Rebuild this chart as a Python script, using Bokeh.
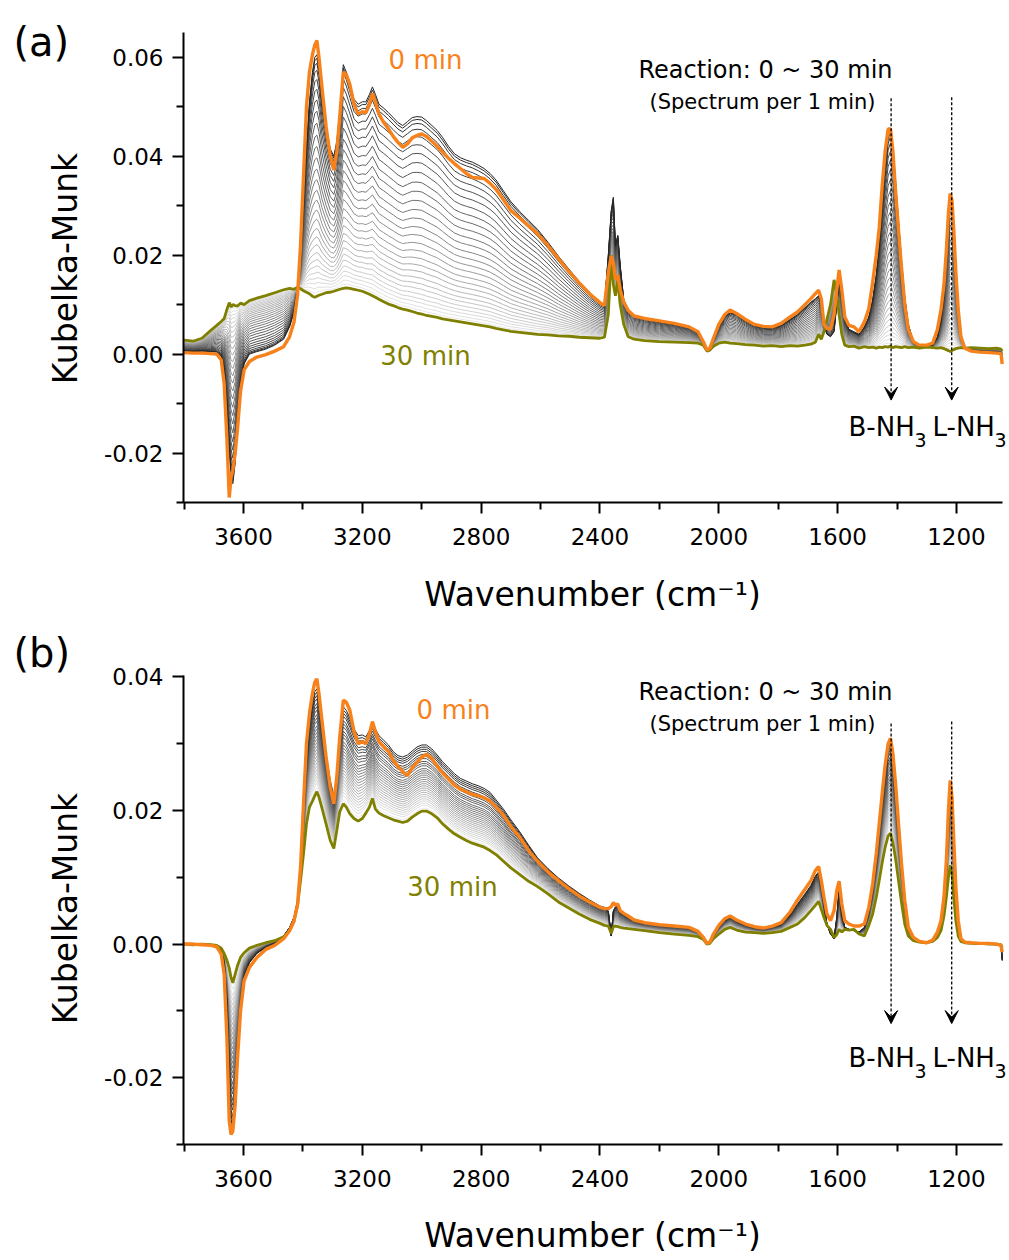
import math
import numpy as np
from bokeh.plotting import figure
from bokeh.models import (Range1d, FixedTicker, PrintfTickFormatter, Label, Arrow,
                          VeeHead, LinearAxis)
from bokeh.layouts import column
from bokeh.embed import file_html
from bokeh.resources import INLINE

# ---------------------------------------------------------------------------
# Spectra (Kubelka-Munk units) on a common wavenumber grid, cm^-1
# ---------------------------------------------------------------------------
wavenumber = [
    3800, 3770, 3740, 3710, 3690, 3675, 3665, 3656, 3648, 3642,
    3636, 3628, 3620, 3610, 3598, 3580, 3555, 3525, 3495, 3465,
    3445, 3430, 3418, 3408, 3398, 3388, 3378, 3368, 3360, 3353,
    3346, 3336, 3322, 3308, 3296, 3286, 3276, 3264, 3254, 3242,
    3228, 3214, 3200, 3188, 3176, 3166, 3156, 3144, 3128, 3112,
    3096, 3080, 3064, 3048, 3032, 3016, 3000, 2984, 2966, 2948,
    2930, 2910, 2890, 2870, 2850, 2830, 2810, 2790, 2770, 2750,
    2725, 2700, 2670, 2640, 2610, 2575, 2540, 2505, 2470, 2435,
    2400, 2385, 2372, 2362, 2355, 2348, 2340, 2332, 2320, 2305,
    2285, 2250, 2200, 2150, 2100, 2070, 2052, 2040, 2030, 2018,
    2000, 1980, 1962, 1940, 1910, 1880, 1850, 1820, 1790, 1760,
    1735, 1710, 1690, 1675, 1664, 1655, 1646, 1636, 1624, 1612,
    1603, 1595, 1586, 1576, 1562, 1545, 1528, 1510, 1495, 1482,
    1470, 1460, 1450, 1440, 1430, 1422, 1414, 1405, 1395, 1385,
    1374, 1362, 1345, 1325, 1300, 1280, 1264, 1252, 1242, 1234,
    1227, 1221, 1215, 1209, 1202, 1194, 1185, 1172, 1150, 1120,
    1090, 1065, 1050, 1046]

# (a)
km_a_0min = [
    0.0003, 0.0002, 0.0002, 0.0001, 0.0000, -0.0012, -0.0060, -0.0170, -0.0290, -0.0250,
    -0.0235, -0.0200, -0.0150, -0.0075, -0.0032, -0.0015, -0.0006, -0.0001, 0.0006, 0.0015,
    0.0035, 0.0065, 0.0120, 0.0220, 0.0360, 0.0500, 0.0570, 0.0605, 0.0625, 0.0634,
    0.0600, 0.0540, 0.0460, 0.0400, 0.0372, 0.0410, 0.0480, 0.0570, 0.0565, 0.0545,
    0.0505, 0.0485, 0.0490, 0.0488, 0.0505, 0.0527, 0.0510, 0.0485, 0.0468, 0.0455,
    0.0440, 0.0428, 0.0418, 0.0425, 0.0437, 0.0442, 0.0445, 0.0440, 0.0430, 0.0420,
    0.0408, 0.0396, 0.0385, 0.0375, 0.0365, 0.0357, 0.0356, 0.0355, 0.0345, 0.0333,
    0.0312, 0.0290, 0.0275, 0.0259, 0.0243, 0.0219, 0.0193, 0.0167, 0.0144, 0.0122,
    0.0104, 0.0098, 0.0165, 0.0198, 0.0185, 0.0150, 0.0160, 0.0130, 0.0105, 0.0088,
    0.0077, 0.0072, 0.0067, 0.0062, 0.0055, 0.0045, 0.0025, 0.0008, 0.0012, 0.0032,
    0.0060, 0.0080, 0.0089, 0.0082, 0.0070, 0.0060, 0.0056, 0.0055, 0.0062, 0.0075,
    0.0085, 0.0100, 0.0112, 0.0122, 0.0129, 0.0112, 0.0060, 0.0052, 0.0050, 0.0080,
    0.0130, 0.0170, 0.0130, 0.0075, 0.0058, 0.0055, 0.0045, 0.0065, 0.0092, 0.0145,
    0.0200, 0.0255, 0.0340, 0.0410, 0.0455, 0.0455, 0.0410, 0.0330, 0.0250, 0.0175,
    0.0100, 0.0050, 0.0025, 0.0018, 0.0018, 0.0022, 0.0050, 0.0090, 0.0140, 0.0210,
    0.0285, 0.0325, 0.0310, 0.0250, 0.0165, 0.0090, 0.0035, 0.0012, 0.0006, 0.0004,
    0.0003, 0.0002, 0.0001, -0.0020]

km_a_1min = [
    0.0006, 0.0005, 0.0006, 0.0005, 0.0004, -0.0004, -0.0030, -0.0100, -0.0200, -0.0240,
    -0.0262, -0.0220, -0.0140, -0.0060, -0.0020, 0.0000, 0.0005, 0.0010, 0.0018, 0.0030,
    0.0055, 0.0085, 0.0130, 0.0190, 0.0300, 0.0420, 0.0510, 0.0570, 0.0600, 0.0605,
    0.0580, 0.0520, 0.0460, 0.0415, 0.0400, 0.0430, 0.0490, 0.0585, 0.0570, 0.0545,
    0.0515, 0.0505, 0.0510, 0.0510, 0.0525, 0.0540, 0.0525, 0.0505, 0.0497, 0.0488,
    0.0478, 0.0468, 0.0462, 0.0470, 0.0478, 0.0480, 0.0479, 0.0472, 0.0462, 0.0452,
    0.0438, 0.0420, 0.0405, 0.0397, 0.0392, 0.0388, 0.0382, 0.0375, 0.0365, 0.0352,
    0.0330, 0.0308, 0.0288, 0.0270, 0.0252, 0.0226, 0.0198, 0.0172, 0.0147, 0.0124,
    0.0105, 0.0100, 0.0200, 0.0290, 0.0317, 0.0220, 0.0240, 0.0180, 0.0110, 0.0088,
    0.0077, 0.0072, 0.0066, 0.0061, 0.0054, 0.0044, 0.0024, 0.0008, 0.0012, 0.0030,
    0.0055, 0.0075, 0.0085, 0.0080, 0.0068, 0.0058, 0.0054, 0.0053, 0.0058, 0.0070,
    0.0080, 0.0094, 0.0105, 0.0112, 0.0118, 0.0105, 0.0060, 0.0040, 0.0035, 0.0045,
    0.0100, 0.0150, 0.0120, 0.0070, 0.0050, 0.0045, 0.0040, 0.0055, 0.0075, 0.0110,
    0.0160, 0.0220, 0.0300, 0.0380, 0.0440, 0.0455, 0.0420, 0.0350, 0.0270, 0.0190,
    0.0115, 0.0060, 0.0025, 0.0016, 0.0016, 0.0018, 0.0035, 0.0070, 0.0120, 0.0190,
    0.0270, 0.0320, 0.0315, 0.0260, 0.0180, 0.0100, 0.0040, 0.0014, 0.0007, 0.0005,
    0.0004, 0.0003, 0.0002, -0.0010]

km_a_30min = [
    0.0028, 0.0026, 0.0032, 0.0048, 0.0058, 0.0066, 0.0072, 0.0090, 0.0104, 0.0095,
    0.0100, 0.0098, 0.0097, 0.0103, 0.0100, 0.0108, 0.0113, 0.0118, 0.0124, 0.0130,
    0.0133, 0.0131, 0.0135, 0.0132, 0.0128, 0.0125, 0.0122, 0.0117, 0.0115, 0.0117,
    0.0119, 0.0121, 0.0124, 0.0125, 0.0127, 0.0129, 0.0131, 0.0133, 0.0134, 0.0133,
    0.0131, 0.0129, 0.0127, 0.0124, 0.0121, 0.0118, 0.0115, 0.0111, 0.0106, 0.0101,
    0.0098, 0.0094, 0.0091, 0.0089, 0.0086, 0.0083, 0.0081, 0.0078, 0.0076, 0.0074,
    0.0071, 0.0069, 0.0067, 0.0065, 0.0063, 0.0061, 0.0059, 0.0057, 0.0055, 0.0052,
    0.0049, 0.0046, 0.0044, 0.0042, 0.0040, 0.0039, 0.0037, 0.0036, 0.0034, 0.0033,
    0.0032, 0.0034, 0.0080, 0.0200, 0.0140, 0.0118, 0.0150, 0.0100, 0.0060, 0.0035,
    0.0030, 0.0027, 0.0025, 0.0024, 0.0023, 0.0022, 0.0018, 0.0006, 0.0008, 0.0016,
    0.0022, 0.0024, 0.0022, 0.0021, 0.0019, 0.0018, 0.0016, 0.0017, 0.0015, 0.0017,
    0.0016, 0.0018, 0.0020, 0.0024, 0.0040, 0.0030, 0.0045, 0.0070, 0.0100, 0.0150,
    0.0120, 0.0080, 0.0040, 0.0018, 0.0015, 0.0016, 0.0012, 0.0015, 0.0013, 0.0014,
    0.0012, 0.0014, 0.0013, 0.0015, 0.0014, 0.0016, 0.0013, 0.0015, 0.0014, 0.0013,
    0.0015, 0.0013, 0.0014, 0.0012, 0.0014, 0.0013, 0.0012, 0.0013, 0.0011, 0.0009,
    0.0007, 0.0005, 0.0007, 0.0009, 0.0011, 0.0012, 0.0013, 0.0012, 0.0013, 0.0012,
    0.0011, 0.0012, 0.0010, 0.0006]

# (b)
km_b_0min = [
    0.0000, 0.0000, -0.0001, -0.0002, -0.0004, -0.0015, -0.0045, -0.0140, -0.0265, -0.0285,
    -0.0280, -0.0240, -0.0170, -0.0100, -0.0055, -0.0035, -0.0020, -0.0008, -0.0002, 0.0008,
    0.0020, 0.0035, 0.0060, 0.0115, 0.0210, 0.0300, 0.0345, 0.0375, 0.0392, 0.0397,
    0.0375, 0.0335, 0.0280, 0.0235, 0.0210, 0.0250, 0.0310, 0.0365, 0.0362, 0.0350,
    0.0318, 0.0300, 0.0303, 0.0300, 0.0315, 0.0333, 0.0318, 0.0303, 0.0295, 0.0288,
    0.0275, 0.0266, 0.0258, 0.0252, 0.0264, 0.0272, 0.0280, 0.0284, 0.0278, 0.0266,
    0.0256, 0.0247, 0.0238, 0.0232, 0.0228, 0.0224, 0.0222, 0.0219, 0.0214, 0.0205,
    0.0193, 0.0176, 0.0160, 0.0140, 0.0124, 0.0108, 0.0095, 0.0083, 0.0072, 0.0063,
    0.0055, 0.0053, 0.0053, 0.0056, 0.0062, 0.0058, 0.0060, 0.0050, 0.0046, 0.0042,
    0.0036, 0.0032, 0.0029, 0.0027, 0.0025, 0.0019, 0.0010, 0.0001, 0.0003, 0.0015,
    0.0028, 0.0038, 0.0042, 0.0036, 0.0030, 0.0026, 0.0024, 0.0027, 0.0032, 0.0048,
    0.0066, 0.0082, 0.0095, 0.0110, 0.0116, 0.0095, 0.0070, 0.0045, 0.0035, 0.0050,
    0.0080, 0.0094, 0.0060, 0.0035, 0.0030, 0.0027, 0.0027, 0.0030, 0.0055, 0.0090,
    0.0135, 0.0180, 0.0225, 0.0268, 0.0300, 0.0308, 0.0285, 0.0240, 0.0180, 0.0120,
    0.0065, 0.0025, 0.0010, 0.0004, 0.0002, 0.0006, 0.0018, 0.0035, 0.0070, 0.0125,
    0.0200, 0.0245, 0.0220, 0.0155, 0.0085, 0.0035, 0.0008, 0.0003, 0.0002, 0.0001,
    0.0001, 0.0000, -0.0002, -0.0012]

km_b_1min = [
    0.0001, 0.0000, 0.0000, -0.0001, -0.0003, -0.0010, -0.0030, -0.0090, -0.0200, -0.0270,
    -0.0280, -0.0250, -0.0180, -0.0100, -0.0050, -0.0028, -0.0014, -0.0005, 0.0001, 0.0012,
    0.0025, 0.0040, 0.0065, 0.0110, 0.0195, 0.0280, 0.0330, 0.0360, 0.0378, 0.0382,
    0.0365, 0.0330, 0.0285, 0.0245, 0.0222, 0.0255, 0.0310, 0.0355, 0.0350, 0.0338,
    0.0322, 0.0312, 0.0313, 0.0310, 0.0320, 0.0330, 0.0322, 0.0312, 0.0305, 0.0298,
    0.0288, 0.0282, 0.0280, 0.0283, 0.0289, 0.0295, 0.0298, 0.0298, 0.0292, 0.0283,
    0.0273, 0.0264, 0.0255, 0.0248, 0.0244, 0.0240, 0.0237, 0.0233, 0.0227, 0.0216,
    0.0202, 0.0186, 0.0168, 0.0148, 0.0129, 0.0113, 0.0099, 0.0087, 0.0076, 0.0066,
    0.0057, 0.0055, 0.0050, 0.0012, 0.0050, 0.0056, 0.0057, 0.0049, 0.0045, 0.0041,
    0.0036, 0.0032, 0.0029, 0.0027, 0.0025, 0.0019, 0.0010, 0.0001, 0.0003, 0.0014,
    0.0026, 0.0036, 0.0041, 0.0035, 0.0029, 0.0025, 0.0023, 0.0026, 0.0030, 0.0044,
    0.0060, 0.0075, 0.0088, 0.0102, 0.0108, 0.0090, 0.0060, 0.0030, 0.0015, 0.0008,
    0.0040, 0.0085, 0.0045, 0.0025, 0.0022, 0.0020, 0.0018, 0.0025, 0.0048, 0.0082,
    0.0125, 0.0170, 0.0215, 0.0258, 0.0292, 0.0300, 0.0280, 0.0235, 0.0175, 0.0115,
    0.0062, 0.0024, 0.0009, 0.0004, 0.0002, 0.0005, 0.0015, 0.0030, 0.0062, 0.0115,
    0.0190, 0.0238, 0.0215, 0.0150, 0.0080, 0.0032, 0.0007, 0.0003, 0.0001, 0.0000,
    0.0000, -0.0001, -0.0003, -0.0025]

km_b_30min = [
    0.0000, -0.0001, 0.0000, -0.0001, -0.0002, -0.0006, -0.0014, -0.0024, -0.0036, -0.0050,
    -0.0058, -0.0045, -0.0032, -0.0020, -0.0013, -0.0006, -0.0002, 0.0002, 0.0005, 0.0011,
    0.0020, 0.0034, 0.0058, 0.0095, 0.0135, 0.0180, 0.0205, 0.0214, 0.0222, 0.0228,
    0.0220, 0.0204, 0.0180, 0.0155, 0.0143, 0.0170, 0.0198, 0.0210, 0.0205, 0.0195,
    0.0188, 0.0184, 0.0188, 0.0196, 0.0205, 0.0218, 0.0202, 0.0196, 0.0192, 0.0189,
    0.0186, 0.0184, 0.0182, 0.0184, 0.0190, 0.0195, 0.0199, 0.0199, 0.0195, 0.0189,
    0.0180, 0.0172, 0.0165, 0.0160, 0.0155, 0.0151, 0.0148, 0.0145, 0.0140, 0.0134,
    0.0124, 0.0114, 0.0104, 0.0094, 0.0086, 0.0075, 0.0063, 0.0054, 0.0045, 0.0037,
    0.0031, 0.0028, 0.0027, 0.0016, 0.0026, 0.0027, 0.0026, 0.0025, 0.0024, 0.0023,
    0.0022, 0.0020, 0.0017, 0.0015, 0.0013, 0.0011, 0.0007, 0.0000, 0.0001, 0.0008,
    0.0015, 0.0022, 0.0025, 0.0021, 0.0018, 0.0017, 0.0016, 0.0017, 0.0019, 0.0025,
    0.0030, 0.0040, 0.0050, 0.0058, 0.0064, 0.0052, 0.0040, 0.0028, 0.0022, 0.0010,
    0.0014, 0.0022, 0.0018, 0.0022, 0.0021, 0.0022, 0.0015, 0.0012, 0.0028, 0.0045,
    0.0070, 0.0095, 0.0122, 0.0145, 0.0162, 0.0166, 0.0152, 0.0128, 0.0095, 0.0062,
    0.0030, 0.0012, 0.0005, 0.0003, 0.0002, 0.0004, 0.0010, 0.0020, 0.0042, 0.0070,
    0.0100, 0.0118, 0.0105, 0.0070, 0.0035, 0.0012, 0.0004, 0.0002, 0.0001, 0.0001,
    0.0000, 0.0000, -0.0001, -0.0005]

# Kubelka-Munk level near 2900 cm^-1 for each 1-min spectrum (minutes 1..30)
minutes = list(range(1, 31))
level_a_2900 = [0.0410, 0.0405, 0.0398, 0.0388, 0.0375, 0.0361, 0.0346, 0.0330, 0.0313, 0.0296,
                0.0280, 0.0264, 0.0248, 0.0233, 0.0218, 0.0204, 0.0190, 0.0177, 0.0164, 0.0152,
                0.0141, 0.0130, 0.0120, 0.0111, 0.0102, 0.0094, 0.0087, 0.0080, 0.0074, 0.0068]
level_b_2900 = [0.0260, 0.0257, 0.0254, 0.0251, 0.0247, 0.0244, 0.0241, 0.0237, 0.0234, 0.0231,
                0.0227, 0.0224, 0.0221, 0.0218, 0.0215, 0.0212, 0.0209, 0.0206, 0.0203, 0.0200,
                0.0197, 0.0194, 0.0191, 0.0188, 0.0185, 0.0182, 0.0179, 0.0176, 0.0172, 0.0168]

# Band positions of adsorbed ammonia (cm^-1)
band_b_nh3 = 1420
band_l_nh3 = 1216

x_major = [1200, 1600, 2000, 2400, 2800, 3200, 3600]
x_minor = [1000, 1400, 1800, 2200, 2600, 3000, 3400, 3800]

FONT = "DejaVu Sans"
ORANGE = "#F7821B"
OLIVE = "#7F7F00"

# canvas geometry (px) of each panel
W, H = 1009, 630
AX_LEFT, AX_RIGHT = 183, 1002          # x-axis extent on the canvas
WN_HI, WN_LO = 3802, 1045              # wavenumber at those two ends
SX = (AX_RIGHT - AX_LEFT) / (WN_HI - WN_LO)


def px_wn(px):
    return WN_HI - (px - AX_LEFT) / SX


def make_panel(tag, k0, k1, k30, levels, y_lo, y_hi, y_major, y_minor,
               top_px, bot_px, txt):
    sy = (bot_px - top_px) / (y_hi - y_lo)

    def py_val(py):
        return y_hi - (py - top_px) / sy

    p = figure(width=W, height=H, min_border=0,
               x_range=Range1d(WN_HI + AX_LEFT / SX, WN_HI - (W - AX_LEFT) / SX),
               y_range=Range1d(y_lo - (H - bot_px) / sy, y_hi + top_px / sy),
               x_axis_location=None, y_axis_location=None,
               output_backend="svg", toolbar_location=None)
    p.outline_line_color = None
    p.grid.visible = False
    p.background_fill_color = "white"
    p.border_fill_color = "white"

    wn = np.array(wavenumber, dtype=float)
    a0 = np.array(k0)
    a1 = np.array(k1)
    a30 = np.array(k30)
    lv = np.array(levels)

    # intermediate spectra, late (light) first so that early (dark) ones lie on top
    for m in range(29, 0, -1):
        frac = (lv[m - 1] - lv[-1]) / (lv[0] - lv[-1])
        y = a30 + frac * (a1 - a30)
        g = int(round(38 + (m - 1) * (232 - 38) / 28))
        p.line(wn, y, line_color=(g, g, g), line_width=1.0)

    p.line(wn, a30, line_color=OLIVE, line_width=2.8)
    p.line(wn, a0, line_color=ORANGE, line_width=3.4)

    # axes pinned at the corner of the data area
    xa = LinearAxis(fixed_location=y_lo, bounds=(WN_LO, WN_HI),
                    ticker=FixedTicker(ticks=x_major, minor_ticks=x_minor))
    ya = LinearAxis(fixed_location=WN_HI, bounds=(y_lo, y_hi),
                    ticker=FixedTicker(ticks=y_major, minor_ticks=y_minor),
                    formatter=PrintfTickFormatter(format="%.2f"))
    for ax in (xa, ya):
        ax.axis_line_width = 2
        ax.axis_line_color = "black"
        ax.major_tick_line_width = 2
        ax.minor_tick_line_width = 2
        ax.major_tick_out = 11
        ax.major_tick_in = 0
        ax.minor_tick_out = 7
        ax.minor_tick_in = 0
        ax.major_label_text_font = FONT
        ax.major_label_text_font_size = "23px"
        ax.major_label_text_color = "black"
        ax.major_label_standoff = 9
    xa.major_label_standoff = 14
    p.add_layout(xa, "below")
    p.add_layout(ya, "left")

    def text(px, py, s, size, color="black", align="left", angle=0.0):
        # alphabetic baseline placed at canvas position (px, py)
        if angle:
            xo, yo = -0.4 * size, 0
        else:
            xo, yo = 0, 0.4 * size
        p.add_layout(Label(x=px_wn(px), y=py_val(py), text=s, text_font=FONT,
                           text_font_size=f"{size}px", text_color=color,
                           text_align=align, text_baseline="alphabetic",
                           angle=angle, x_offset=xo, y_offset=yo))

    # dashed markers for the two NH3 bands
    for xb, (ys, ye) in zip((band_b_nh3, band_l_nh3), txt["arrows"]):
        p.add_layout(Arrow(end=VeeHead(size=13, fill_color="black", line_color="black",
                                       line_width=1),
                           x_start=xb, y_start=ys, x_end=xb, y_end=ye,
                           line_color="black", line_width=1.3, line_dash="3 2"))

    text(13, txt["tag"], tag, 40)
    text(*txt["t0"], "0 min", 26, ORANGE, "center")
    text(*txt["t30"], "30 min", 26, OLIVE, "center")
    text(765, txt["react"], "Reaction: 0 ~ 30 min", 24, align="center")
    text(762, txt["spec"], "(Spectrum per 1 min)", 21, align="center")
    nb = txt["nh3"]
    text(848, nb, "B-NH", 26)
    text(914, nb + 10, "3", 19)
    text(932, nb, "L-NH", 26)
    text(994, nb + 10, "3", 19)
    text(592, txt["xtitle"], "Wavenumber (cm\u207b\u00b9)", 33, align="center")
    text(78, txt["ytitle"], "Kubelka-Munk", 33, align="center", angle=math.pi / 2)
    return p


pa = make_panel("(a)", km_a_0min, km_a_1min, km_a_30min, level_a_2900,
                -0.030, 0.065, [-0.02, 0.0, 0.02, 0.04, 0.06],
                [-0.03, -0.01, 0.01, 0.03, 0.05], 32, 502,
                dict(tag=57, t0=(425, 70), t30=(425, 366), react=79, spec=110,
                     nh3=437, xtitle=607, ytitle=268,
                     arrows=[(0.0517, -0.0093), (0.0519, -0.0093)]))

pb = make_panel("(b)", km_b_0min, km_b_1min, km_b_30min, level_b_2900,
                -0.030, 0.0402, [-0.02, 0.0, 0.02, 0.04],
                [-0.03, -0.01, 0.01, 0.03], 45, 514,
                dict(tag=38, t0=(453, 90), t30=(452, 267), react=71, spec=102,
                     nh3=438, xtitle=618, ytitle=278,
                     arrows=[(0.0330, -0.0119), (0.0333, -0.0119)]))

layout = column(pa, pb, spacing=0)
open("out.html", "w").write(file_html(layout, INLINE))
